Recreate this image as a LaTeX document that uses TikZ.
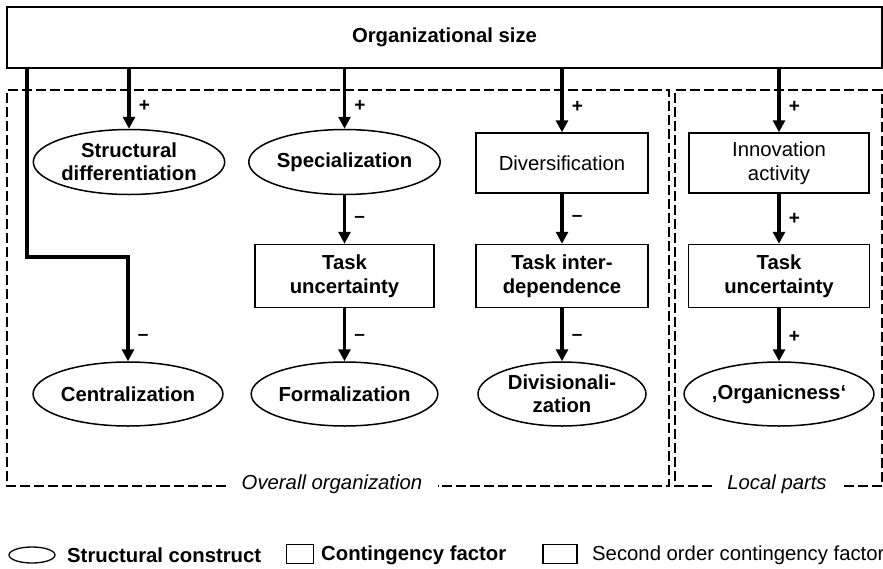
\documentclass[tikz,border=0pt]{standalone}
\usepackage{fontspec}
\setmainfont{Liberation Sans}
\usetikzlibrary{shapes.geometric,arrows.meta}

\begin{document}
\begin{tikzpicture}[x=1pt,y=-1pt,
  font=\fontsize{20.3}{24}\selectfont,
  construct/.style={draw, ellipse, line width=1.5pt, inner sep=0pt, align=center,
    font=\fontsize{20.3}{23}\selectfont\bfseries},
  factor/.style={draw, rectangle, line width=1.5pt, inner sep=0pt, align=center,
    font=\fontsize{20.3}{24}\selectfont\bfseries},
  secondfactor/.style={draw, rectangle, line width=1.5pt, inner sep=0pt, align=center,
    font=\fontsize{20.3}{24}\selectfont},
  link/.style={line width=3.2pt, -{Triangle[length=12pt,width=12pt]}},
  sign/.style={font=\fontsize{19}{19}\selectfont\bfseries, right=5pt},
  region/.style={dash pattern=on 10pt off 4pt, line width=1.3pt},
  regionlabel/.style={font=\fontsize{20.3}{24}\selectfont\itshape}]

\useasboundingbox (0,0) rectangle (883,568);

% size of the organization
\node[draw, line width=1.5pt, inner sep=0pt, minimum width=875pt, minimum height=61pt,
  font=\fontsize{20.3}{24}\selectfont\bfseries] (size) at (444.5,37.5) {Organizational size};

% overall organization
\node[construct, minimum width=158pt, minimum height=65pt] (sd) at (129,162) {Structural\\differentiation};
\node[construct, minimum width=170pt, minimum height=64pt] (cent) at (128,394) {Centralization};
\node[construct, minimum width=172pt, minimum height=65pt] (spec) at (344.5,162) {Specialization};
\node[factor, minimum width=179pt, minimum height=63pt] (tu1) at (344.5,276) {Task\\uncertainty};
\node[construct, minimum width=170pt, minimum height=64pt] (form) at (344.5,394) {Formalization};
\node[secondfactor, minimum width=172pt, minimum height=60pt] (div) at (562,163) {Diversification};
\node[factor, minimum width=172pt, minimum height=63pt] (tid) at (562,276) {Task inter-\\dependence};
\node[construct, minimum width=168pt, minimum height=64pt] (divz) at (562,394) {Divisionali-\\zation};

% local parts
\node[secondfactor, minimum width=180pt, minimum height=60pt] (inno) at (779,163) {Innovation\\activity};
\node[factor, minimum width=181pt, minimum height=63pt] (tu2) at (779,276) {Task\\uncertainty};
\node[construct, minimum width=170pt, minimum height=64pt] (org) at (779,394) {,Organicness`};

% effects
\coordinate (bend) at (27,257);
\draw[link] (size.south -| bend) -- (bend) -| node[sign, pos=0.885] {--} (cent.north);
\draw[link] (size.south -| sd.north) -- node[sign, pos=0.62] {+} (sd.north);
\draw[link] (size.south -| spec.north) -- node[sign, pos=0.62] {+} (spec.north);
\draw[link] (spec.south) -- node[sign] {--} (tu1.north);
\draw[link] (tu1.south) -- node[sign, pos=0.55] {--} (form.north);
\draw[link] (size.south -| div.north) -- node[sign, pos=0.6] {+} (div.north);
\draw[link] (div.south) -- node[sign] {--} (tid.north);
\draw[link] (tid.south) -- node[sign, pos=0.55] {--} (divz.north);
\draw[link] (size.south -| inno.north) -- node[sign, pos=0.6] {+} (inno.north);
\draw[link] (inno.south) -- node[sign] {+} (tu2.north);
\draw[link] (tu2.south) -- node[sign, pos=0.55] {+} (org.north);

% dashed regions with their captions
\node[regionlabel] (overall) at (332,484) {Overall organization};
\node[regionlabel] (local) at (777,484) {Local parts};
\draw[region] (overall.west |- 0,486) ++(-12pt,0) -- (7,486) -- (7,90) -- (669,90) -- (669,486) -- ([xshift=12pt]overall.east |- 0,486);
\draw[region] (local.west |- 0,486) ++(-12pt,0) -- (675,486) -- (675,90) -- (882,90) -- (882,486) -- ([xshift=12pt]local.east |- 0,486);

% legend
\node[draw, ellipse, line width=1.3pt, inner sep=0pt, minimum width=46pt, minimum height=16pt] (lc) at (32,555) {};
\node[anchor=west, inner sep=0pt, font=\fontsize{20.3}{24}\selectfont\bfseries] (lct) at (67,555) {Structural construct};
\node[draw, line width=1.3pt, inner sep=0pt, minimum width=27pt, minimum height=19pt] (lf) at (300,554) {};
\node[anchor=west, inner sep=0pt, font=\fontsize{20.3}{24}\selectfont\bfseries] (lft) at (321,555) {Contingency factor};
\node[draw, line width=1.3pt, inner sep=0pt, minimum width=34pt, minimum height=19pt] (ls) at (560,554) {};
\node[anchor=west, inner sep=0pt, font=\fontsize{20.3}{24}\selectfont] (lst) at (592,555) {Second order contingency factor};
\end{tikzpicture}
\end{document}
